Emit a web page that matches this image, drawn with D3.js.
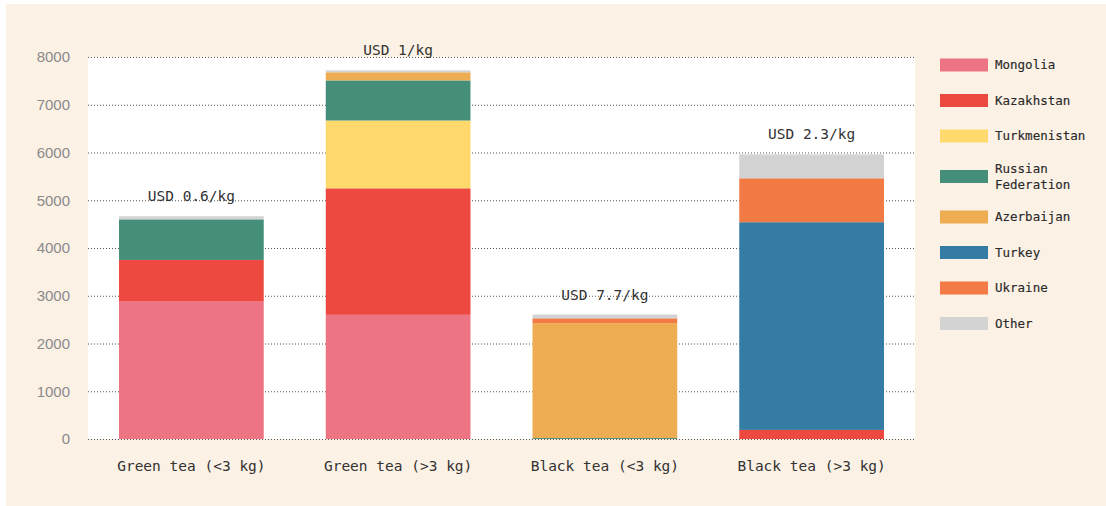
<!DOCTYPE html>
<html>
<head>
<meta charset="utf-8">
<script src="https://cdn.jsdelivr.net/npm/d3@7"></script>
<style>
  html, body { margin: 0; padding: 0; background: #fff; }
  svg { display: block; }
</style>
</head>
<body>
<svg id="chart"></svg>
<script>
// Tea imports by origin, stacked per category
const categories = ['Green tea (<3 kg)', 'Green tea (>3 kg)', 'Black tea (<3 kg)', 'Black tea (>3 kg)'];
const priceLabels = ['USD 0.6/kg', 'USD 1/kg', 'USD 7.7/kg', 'USD 2.3/kg'];
const seriesNames = ['Mongolia', 'Kazakhstan', 'Turkmenistan', 'Russian Federation', 'Azerbaijan', 'Turkey', 'Ukraine', 'Other'];
const seriesColors = ['#ed7483', '#ee4941', '#ffd96b', '#458f7a', '#eeac53', '#347ca4', '#f27a45', '#d3d3d3'];

const mongolia     = [2890, 2600, 0, 0];
const kazakhstan   = [860, 2650, 0, 190];
const turkmenistan = [0, 1420, 0, 0];
const russia       = [850, 840, 20, 0];
const azerbaijan   = [0, 170, 2407, 0];
const turkey       = [0, 0, 0, 4350];
const ukraine      = [0, 0, 100, 920];
const other        = [65, 40, 80, 500];

const yTicks = [0, 1000, 2000, 3000, 4000, 5000, 6000, 7000, 8000];

const allSeries = [mongolia, kazakhstan, turkmenistan, russia, azerbaijan, turkey, ukraine, other];
const keys = ['mongolia', 'kazakhstan', 'turkmenistan', 'russia', 'azerbaijan', 'turkey', 'ukraine', 'other'];
const rows = categories.map((c, i) => {
  const r = { category: c };
  keys.forEach((k, j) => { r[k] = allSeries[j][i]; });
  return r;
});

const width = 1106, height = 506;
const margin = { top: 57, right: 191, bottom: 67, left: 88 };
const innerW = width - margin.left - margin.right;
const innerH = height - margin.top - margin.bottom;
const mono = '"DejaVu Sans Mono", "Liberation Mono", monospace';

const svg = d3.select('#chart').attr('width', width).attr('height', height);

// cream page and white plot area
svg.append('rect').attr('x', 6).attr('y', 4).attr('width', width - 6).attr('height', height - 4).attr('fill', '#fcf1e5');
svg.append('rect').attr('x', margin.left).attr('y', margin.top).attr('width', innerW).attr('height', innerH).attr('fill', '#fff');

const g = svg.append('g').attr('transform', `translate(${margin.left},${margin.top})`);

const x = d3.scaleBand().domain(categories).range([0, innerW]).paddingInner(0.3).paddingOuter(0.15);
const y = d3.scaleLinear().domain([0, 8000]).range([innerH, 0]);

// Grid
const grid = g.append('g')
  .call(d3.axisLeft(y).tickValues(yTicks).tickSize(-innerW).tickFormat(''));
grid.select('.domain').remove();
grid.selectAll('line').attr('stroke', '#555').attr('stroke-width', 1).attr('stroke-dasharray', '1,2');

// Y axis labels
const yAxis = g.append('g')
  .call(d3.axisLeft(y).tickValues(yTicks).tickSize(0).tickPadding(18).tickFormat(d3.format('d')));
yAxis.select('.domain').remove();
yAxis.selectAll('text')
  .attr('font-family', '"Liberation Sans", Arial, sans-serif')
  .attr('font-size', '15px')
  .attr('fill', '#8a8a8a');

// Stacked bars
const stack = d3.stack().keys(keys)(rows);
g.selectAll('g.layer')
  .data(stack)
  .join('g')
  .attr('class', 'layer')
  .attr('fill', (d, i) => seriesColors[i])
  .selectAll('rect')
  .data(d => d)
  .join('rect')
  .attr('x', d => x(d.data.category))
  .attr('width', x.bandwidth())
  .attr('y', d => y(d[1]))
  .attr('height', d => y(d[0]) - y(d[1]));

// Price labels above bars
const totals = rows.map(r => d3.sum(keys, k => r[k]));
g.selectAll('text.price')
  .data(categories)
  .join('text')
  .attr('class', 'price')
  .attr('x', d => x(d) + x.bandwidth() / 2)
  .attr('y', (d, i) => y(totals[i]) - 15)
  .attr('text-anchor', 'middle')
  .attr('font-family', mono)
  .attr('font-size', '14.5px')
  .attr('fill', '#333')
  .text((d, i) => priceLabels[i]);

// X axis labels
const xAxis = g.append('g')
  .attr('transform', `translate(0,${innerH})`)
  .call(d3.axisBottom(x).tickSize(0).tickPadding(22));
xAxis.select('.domain').remove();
xAxis.selectAll('text')
  .attr('font-family', mono)
  .attr('font-size', '14.5px')
  .attr('fill', '#333');

// Legend
const legend = svg.append('g').attr('transform', 'translate(940,0)');
let ly = 65;
seriesNames.forEach((name, i) => {
  const lines = name === 'Russian Federation' ? ['Russian', 'Federation'] : [name];
  if (lines.length > 1) ly += 5;
  legend.append('rect')
    .attr('x', 0).attr('y', ly - 6.5)
    .attr('width', 48).attr('height', 13)
    .attr('fill', seriesColors[i]);
  const t = legend.append('text')
    .attr('x', 55)
    .attr('y', ly - (lines.length - 1) * 8 + 4)
    .attr('font-family', mono)
    .attr('font-size', '12.5px')
    .attr('fill', '#2a2a2a')
    .attr('stroke', '#2a2a2a')
    .attr('stroke-width', 0.15);
  lines.forEach((l, k) => {
    t.append('tspan').attr('x', 55).attr('dy', k === 0 ? 0 : 16).text(l);
  });
  ly += 35.5;
  if (lines.length > 1) ly += 5;
});
</script>
</body>
</html>
